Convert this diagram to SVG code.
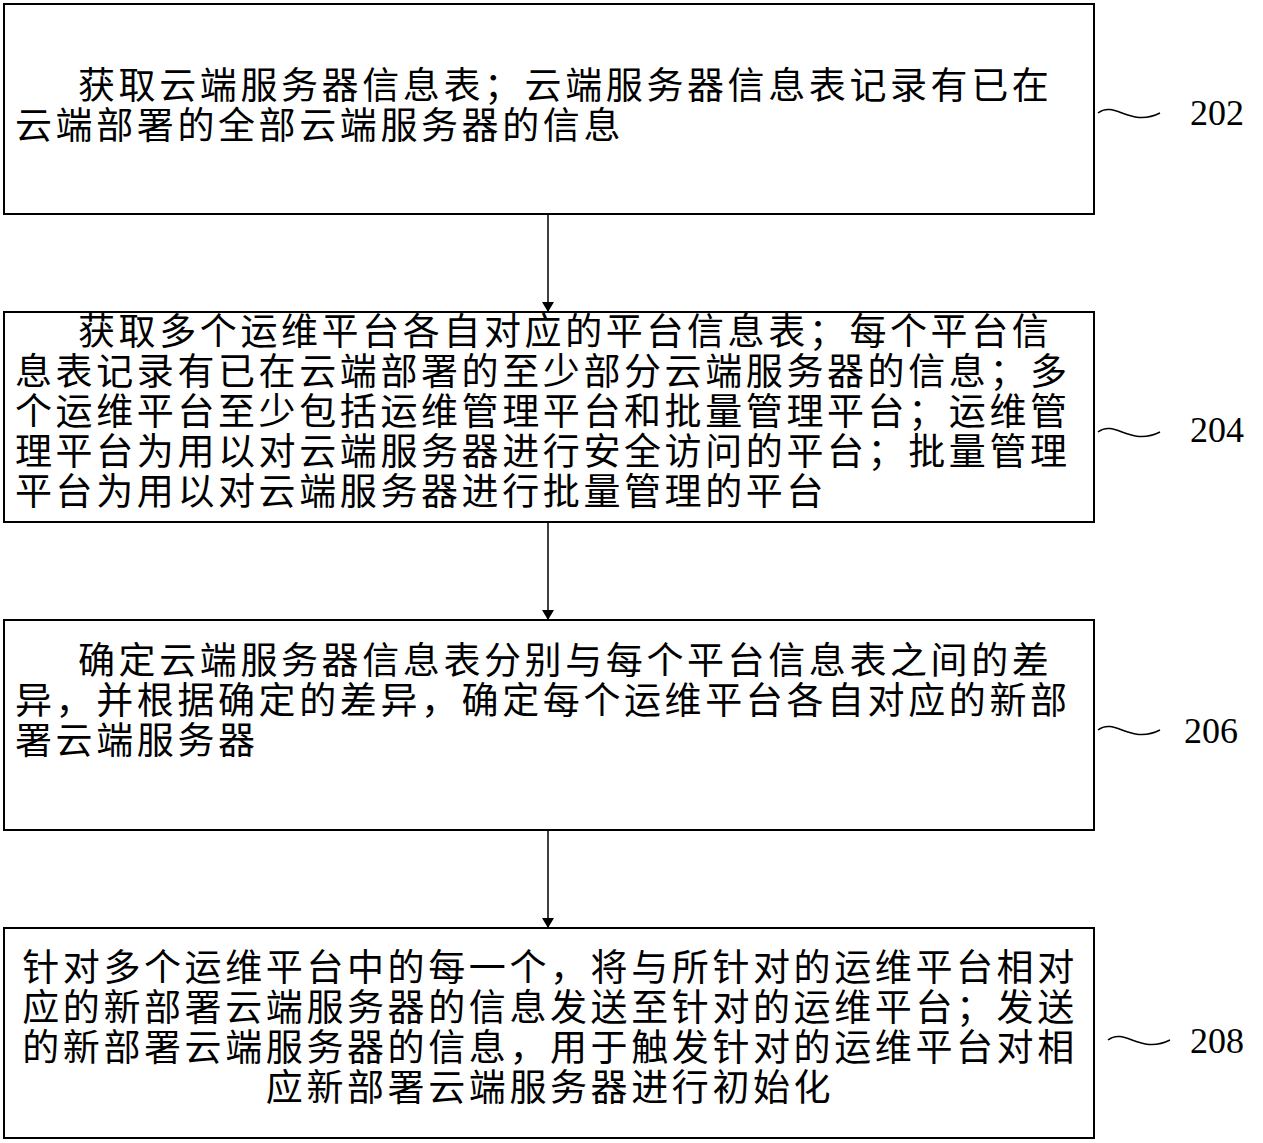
<svg xmlns="http://www.w3.org/2000/svg" width="1263" height="1143" viewBox="0 0 1263 1143">
<style>
.b{fill:#fff;stroke:#000;stroke-width:2}
.t{font-family:"Noto Sans CJK SC",sans-serif;font-size:37px;letter-spacing:3.6px;fill:#000}
.c{text-anchor:middle}
.n{font-family:"Liberation Serif",serif;font-size:36px;fill:#000}
.w{fill:none;stroke:#000;stroke-width:1.5}
.l{stroke:#000;stroke-width:1.5}
</style>
<defs><marker id="a" markerWidth="10" markerHeight="12" refX="9" refY="6" orient="auto" markerUnits="userSpaceOnUse"><path d="M0,0L10,6L0,12z" fill="#000"/></marker></defs>
<rect width="1263" height="1143" fill="#fff"/>
<g id="connectors">
<line class="l" x1="548" y1="214" x2="548" y2="311" marker-end="url(#a)"/>
<line class="l" x1="548" y1="522" x2="548" y2="619" marker-end="url(#a)"/>
<line class="l" x1="548" y1="830" x2="548" y2="927" marker-end="url(#a)"/>
</g>
<g id="n202"><rect class="b" x="4" y="4" width="1090" height="210"/>
<text class="t" x="78" y="99">获取云端服务器信息表；云端服务器信息表记录有已在</text>
<text class="t" x="15" y="139">云端部署的全部云端服务器的信息</text>
<path class="w" d="M1098,113 C1115,100 1130,128 1160,113"/><text class="n" x="1190" y="125">202</text></g>
<g id="n204"><rect class="b" x="4" y="312" width="1090" height="210"/>
<text class="t" x="78" y="345">获取多个运维平台各自对应的平台信息表；每个平台信</text>
<text class="t" x="15" y="385">息表记录有已在云端部署的至少部分云端服务器的信息；多</text>
<text class="t" x="15" y="425">个运维平台至少包括运维管理平台和批量管理平台；运维管</text>
<text class="t" x="15" y="465">理平台为用以对云端服务器进行安全访问的平台；批量管理</text>
<text class="t" x="15" y="505">平台为用以对云端服务器进行批量管理的平台</text>
<path class="w" d="M1098,432 C1115,419 1130,447 1160,432"/><text class="n" x="1190" y="442">204</text></g>
<g id="n206"><rect class="b" x="4" y="620" width="1090" height="210"/>
<text class="t" x="78" y="674">确定云端服务器信息表分别与每个平台信息表之间的差</text>
<text class="t" x="15" y="714">异，并根据确定的差异，确定每个运维平台各自对应的新部</text>
<text class="t" x="15" y="754">署云端服务器</text>
<path class="w" d="M1098,730 C1115,717 1130,745 1160,730"/><text class="n" x="1184" y="743">206</text></g>
<g id="n208"><rect class="b" x="4" y="928" width="1090" height="210"/>
<text class="t c" x="550" y="981">针对多个运维平台中的每一个，将与所针对的运维平台相对</text>
<text class="t c" x="550" y="1021">应的新部署云端服务器的信息发送至针对的运维平台；发送</text>
<text class="t c" x="550" y="1061">的新部署云端服务器的信息，用于触发针对的运维平台对相</text>
<text class="t c" x="550" y="1101">应新部署云端服务器进行初始化</text>
<path class="w" d="M1108,1040 C1125,1027 1140,1055 1170,1040"/><text class="n" x="1190" y="1053">208</text></g>
</svg>
